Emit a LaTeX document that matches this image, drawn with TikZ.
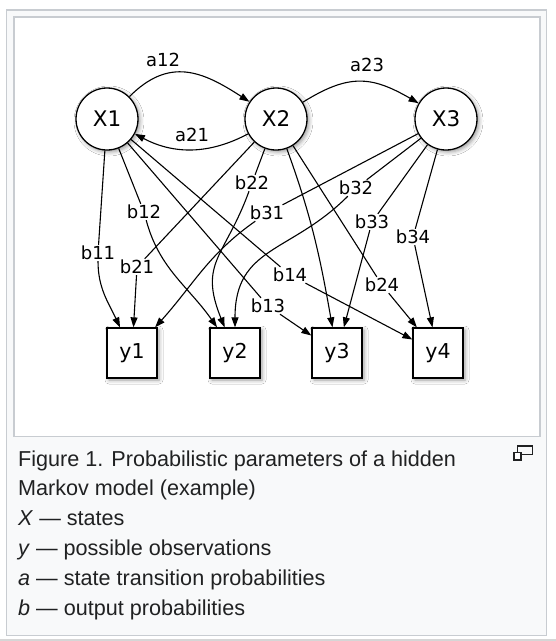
\documentclass[tikz,border=0pt]{standalone}
\usepackage{fontspec}
\setmainfont{Liberation Sans}
\newfontfamily\dejavu{DejaVu Sans}
\usetikzlibrary{arrows.meta,shadows.blur}
\definecolor{framegray}{HTML}{C8CCD1}
\definecolor{capbg}{HTML}{F8F9FA}
\definecolor{captext}{HTML}{202122}
\definecolor{pagegray}{HTML}{D6D6D6}
\begin{document}
\begin{tikzpicture}[x=1pt,y=-1pt,
    state/.style={circle,draw,line width=1.3pt,fill=white,minimum size=62pt,inner sep=0pt,
      font=\dejavu\fontsize{21.5}{21.5}\selectfont,
      blur shadow={shadow xshift=2pt,shadow yshift=-2pt,shadow blur radius=4pt,shadow opacity=40}},
    obs/.style={rectangle,draw,line width=1.3pt,fill=white,minimum size=50pt,inner sep=0pt,
      font=\dejavu\fontsize{20.5}{20.5}\selectfont,
      blur shadow={shadow xshift=2pt,shadow yshift=-2pt,shadow blur radius=4pt,shadow opacity=40}},
    lbl/.style={inner sep=1pt,font=\dejavu\fontsize{18}{18}\selectfont},
    seg/.style={line width=1.1pt},
    arr/.style={line width=1.1pt,-{Triangle[length=10pt,width=7pt]}},
    capline/.style={anchor=base west,inner sep=0pt,text=captext,font=\fontsize{21.6}{26}\selectfont}]
  \useasboundingbox (0,0) rectangle (556,641);
  \draw[color=pagegray,line width=1.5pt] (0,640) -- (556,640);
  \draw[color=framegray,fill=capbg,line width=1.5pt] (6.5,10) rectangle (546.5,635.5);
  \draw[color=framegray,fill=white,line width=1.5pt] (14,17) rectangle (540,436.5);

  \node[state] (X1) at (107,119) {X1};
  \node[state] (X2) at (276,119) {X2};
  \node[state] (X3) at (446,119) {X3};
  \node[obs] (y1) at (132,353) {y1};
  \node[obs] (y2) at (235,353) {y2};
  \node[obs] (y3) at (337,353) {y3};
  \node[obs] (y4) at (438,353) {y4};

  \node[lbl] (a12) at (163,60) {a12};
  \node[lbl] (a23) at (367,65) {a23};
  \node[lbl] (a21) at (192,135) {a21};
  \node[lbl] (b11) at (98,253) {b11};
  \node[lbl] (b12) at (144,212) {b12};
  \node[lbl] (b13) at (268,306) {b13};
  \node[lbl] (b14) at (290,275) {b14};
  \node[lbl] (b21) at (137,267) {b21};
  \node[lbl] (b22) at (252,183) {b22};
  \node[lbl] (b24) at (382,285) {b24};
  \node[lbl] (b31) at (267,213) {b31};
  \node[lbl] (b32) at (356,188) {b32};
  \node[lbl] (b33) at (372,222) {b33};
  \node[lbl] (b34) at (413,237) {b34};

  \draw[arr] (X1) to[out=45,in=147,looseness=1.2] (X2);
  \draw[arr] (X2) to[out=32,in=150,looseness=1.2] (X3);
  \draw[arr] (X2) to[out=208,in=332] (X1);

  \draw[seg] (X1) -- (b11);
  \draw[arr] (b11) to[out=270,in=115] (y1);
  \draw[seg] (X1) -- (b12);
  \draw[arr] (b12) to[out=285,in=125] (y2);
  \draw[seg] (X1) -- (b13);
  \draw[arr] (b13) -- (y3);
  \draw[seg] (X1) -- (b14);
  \draw[arr] (b14) -- (y4);

  \draw[seg] (X2) -- (b21);
  \draw[arr] (b21) -- (y1);
  \draw[seg] (X2) -- (b22);
  \draw[arr] (b22) to[out=250,in=112,looseness=1.3] (y2);
  \draw[arr] (X2) to[out=290,in=100] (y3);
  \draw[seg] (X2) -- (b24);
  \draw[arr] (b24) -- (y4);

  \draw[seg] (X3) -- (b31);
  \draw[arr] (b31) to[out=215,in=48] (y1);
  \draw[seg] (X3) -- (b32);
  \draw[arr] (b32) to[out=225,in=90,looseness=1.2] (y2);
  \draw[seg] (X3) -- (b33);
  \draw[arr] (b33) -- (y3);
  \draw[seg] (X3) -- (b34);
  \draw[arr] (b34) -- (y4);

  \node[capline] (cap1) at (18,466) {Figure 1. Probabilistic parameters of a hidden};
  \node[capline] (cap2) at (18,495) {Markov model (example)};
  \node[capline] (cap3) at (18,525) {\textit{X} — states};
  \node[capline] (cap4) at (18,555) {\textit{y} — possible observations};
  \node[capline] (cap5) at (18,585) {\textit{a} — state transition probabilities};
  \node[capline] (cap6) at (18,615) {\textit{b} — output probabilities};

  \draw[color=captext,line width=1.1pt] (517.5,446) rectangle (532.5,454.5);
  \draw[color=captext,line width=1.1pt,fill=white] (514,452.5) rectangle (521,460);
\end{tikzpicture}
\end{document}
